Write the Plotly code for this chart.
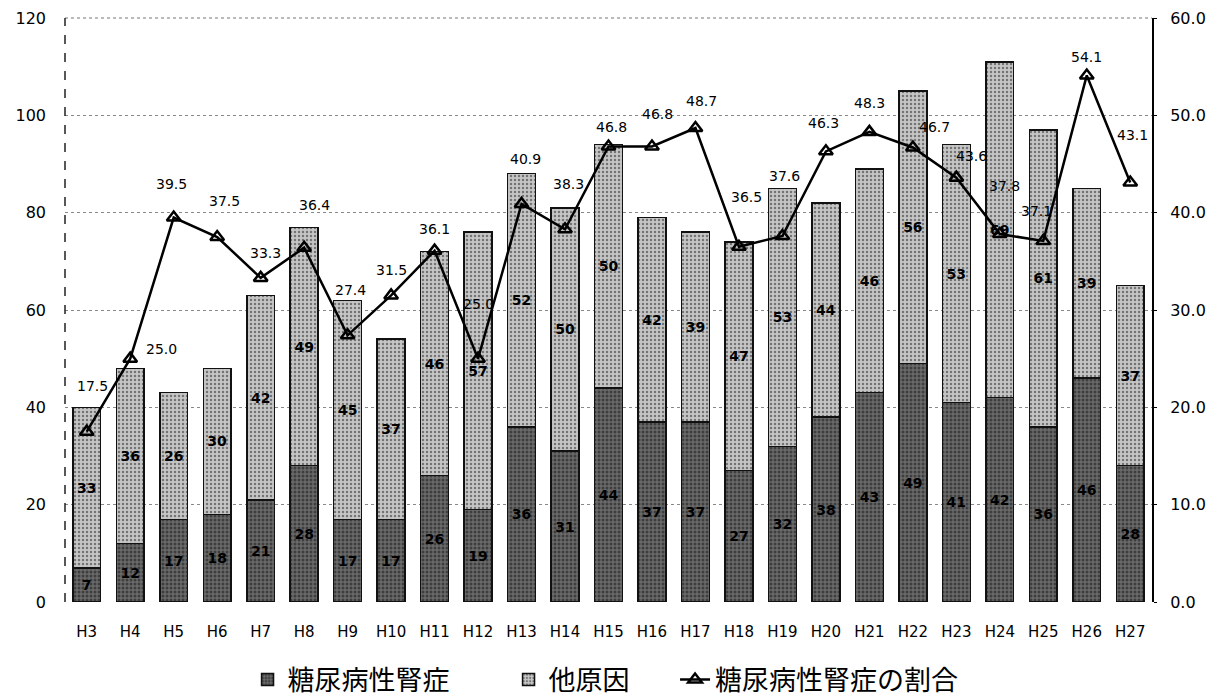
import plotly.graph_objects as go

years = ["H3","H4","H5","H6","H7","H8","H9","H10","H11","H12","H13","H14","H15",
         "H16","H17","H18","H19","H20","H21","H22","H23","H24","H25","H26","H27"]
diabetic = [7,12,17,18,21,28,17,17,26,19,36,31,44,37,37,27,32,38,43,49,41,42,36,46,28]
other = [33,36,26,30,42,49,45,37,46,57,52,50,50,42,39,47,53,44,46,56,53,69,61,39,37]
ratio = [17.5,25.0,39.5,37.5,33.3,36.4,27.4,31.5,36.1,25.0,40.9,38.3,46.8,
         46.8,48.7,36.5,37.6,46.3,48.3,46.7,43.6,37.8,37.1,54.1,43.1]

# label offsets (pixels) for the ratio labels, as placed in the original
label_dy = [46,10,34,36,25,43,45,25,22,55,45,45,19,32,27,50,60,28,29,20,22,48,30,18,47]
label_dx = [6,31,-2,7,5,10,3,0,0,0,4,3,3,6,6,8,2,-2,0,22,15,5,-7,0,2]

font_main = "DejaVu Sans"
cjk = "Noto Sans CJK JP"

fig = go.Figure()
fig.add_trace(go.Bar(
    x=years, y=diabetic, name="糖尿病性腎症\u3000\u3000",
    marker=dict(color="#5c5c5c", line=dict(color="#111", width=1.5),
                pattern=dict(shape=".", fgcolor="#111", bgcolor="#6a6a6a", size=4, solidity=0.45)),
    text=diabetic, textposition="inside", insidetextanchor="middle", textangle=0,
    textfont=dict(family=font_main, size=14, color="#000", weight="bold"),
    constraintext="none",
))
fig.add_trace(go.Bar(
    x=years, y=other, name="他原因\u3000\u2002",
    marker=dict(color="#bdbdbd", line=dict(color="#111", width=1.5),
                pattern=dict(shape=".", fgcolor="#222", bgcolor="#c6c6c6", size=4, solidity=0.3)),
    text=other, textposition="inside", insidetextanchor="middle", textangle=0,
    textfont=dict(family=font_main, size=14, color="#000", weight="bold"),
    constraintext="none",
))
fig.add_trace(go.Scatter(
    x=years, y=ratio, name="糖尿病性腎症の割合", yaxis="y2",
    mode="lines+markers",
    line=dict(color="#000", width=2.5),
    marker=dict(symbol="triangle-up-open", size=12, color="#000", line=dict(width=2.5, color="#000")),
    cliponaxis=False,
))

for yr, v, dy, dx in zip(years, ratio, label_dy, label_dx):
    fig.add_annotation(x=yr, y=v, xref="x", yref="y2", text=f"{v:.1f}",
                       showarrow=False, yshift=dy, xshift=dx,
                       font=dict(family=font_main, size=14, color="#000"))

fig.update_layout(
    width=1227, height=699,
    margin=dict(l=57, r=83, t=10, b=105),
    barmode="stack", bargap=0.36,
    plot_bgcolor="white", paper_bgcolor="white",
    font=dict(family=font_main, size=14, color="#000"),
    xaxis=dict(range=[-0.5, 24.5], tickfont=dict(family=font_main, size=15),
               showgrid=False, ticks="", showline=False, automargin=False,
               ticklabelstandoff=19),
    yaxis=dict(range=[0, 120], dtick=20, showgrid=True, gridcolor="#888",
               griddash="dot", gridwidth=1, zeroline=False,
               showline=False, automargin=False, ticklabelstandoff=18,
               tickfont=dict(family=font_main, size=16), ticks=""),
    yaxis2=dict(range=[0, 60], dtick=10, tickformat=".1f", overlaying="y", side="right",
                showgrid=False, zeroline=False, showline=True, linecolor="#000",
                linewidth=2, ticks="outside", ticklen=3, tickcolor="#000",
                automargin=False, ticklabelstandoff=10,
                tickfont=dict(family=font_main, size=16)),
    legend=dict(orientation="h", x=0.487, xanchor="center", xref="container",
                y=0.0386, yanchor="middle", yref="container",
                font=dict(family=cjk, size=27, color="#000"), traceorder="normal",
                itemwidth=30),
    showlegend=True,
)
fig.add_shape(type="line", xref="paper", yref="paper", x0=0, x1=1, y0=1, y1=1,
              line=dict(color="#777", width=1, dash="dot"))
fig.add_shape(type="line", xref="paper", yref="paper", x0=0, x1=0, y0=0, y1=1,
              line=dict(color="#222", width=1.5, dash="dash"))

fig.write_html("out.html")
